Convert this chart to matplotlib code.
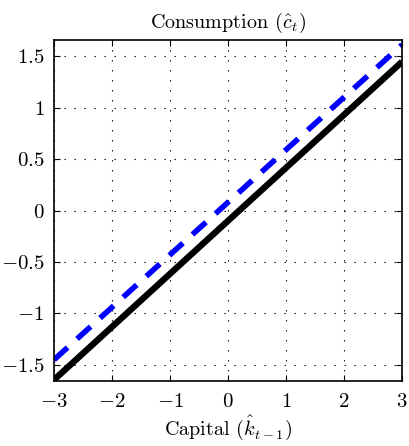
import numpy as np
import matplotlib
matplotlib.use("Agg")
import matplotlib.pyplot as plt

# Policy functions
capital = [-3.0, 3.0]
consumption_solid = [-1.645, 1.445]
consumption_dashed = [-1.45, 1.61]

x_ticks = [-3, -2, -1, 0, 1, 2, 3]
y_ticks = [-1.5, -1, -0.5, 0, 0.5, 1, 1.5]

plt.rcParams['font.family'] = 'cmr10'
plt.rcParams['mathtext.fontset'] = 'cm'
plt.rcParams['axes.formatter.use_mathtext'] = True

fig = plt.figure(figsize=(4.09, 4.46), dpi=100)
ax = fig.add_axes([0.132, 0.146, 0.851, 0.764])

ax.plot(capital, consumption_solid, color='black', linewidth=4.6, solid_capstyle='butt')
ax.plot(capital, consumption_dashed, color='blue', linewidth=4.0,
        dashes=(3.3, 2.3), dash_capstyle='butt')

ax.set_xlim(-3, 3)
ax.set_ylim(-1.655, 1.655)
ax.set_xticks(x_ticks)
ax.set_yticks(y_ticks)
ax.set_xticklabels([r'$-%g$' % -v if v < 0 else r'$%g$' % v for v in x_ticks])
ax.set_yticklabels([r'$-%g$' % -v if v < 0 else r'$%g$' % v for v in y_ticks])
ax.tick_params(direction='in', top=True, right=True, length=4, labelsize=15)
ax.tick_params(axis='x', pad=9)
ax.tick_params(axis='y', pad=7)
ax.grid(True, color='black', linestyle=(0, (1.2, 7.8)), linewidth=0.8)
for s in ax.spines.values():
    s.set_linewidth(1.2)

ax.set_title(r'Consumption $(\hat{c}_t)$', fontsize=14.5, pad=9)
ax.set_xlabel(r'Capital $(\hat{k}_{t-1})$', fontsize=14.5, labelpad=1)

fig.savefig('out.png', dpi=100)
